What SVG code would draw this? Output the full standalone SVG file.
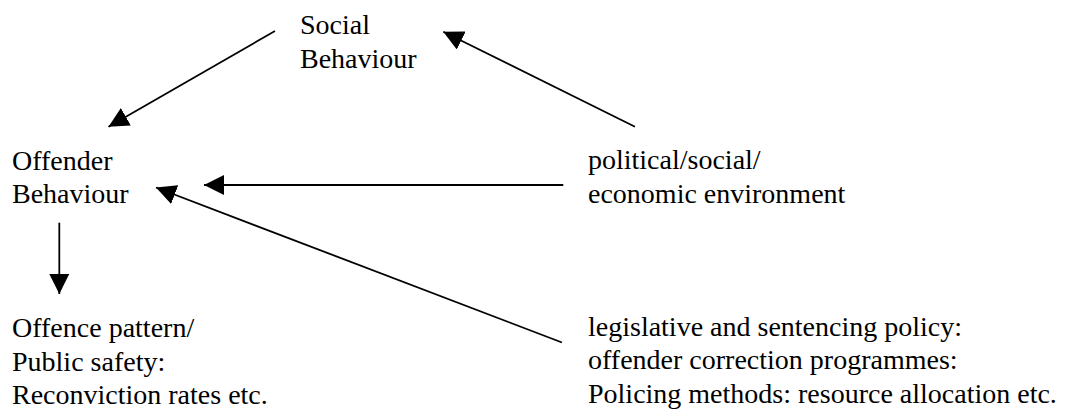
<svg xmlns="http://www.w3.org/2000/svg" width="1086" height="413" viewBox="0 0 1086 413">
  <style>
    text { font-size: 28px; fill: #000; }
    .conn { fill: none; stroke: #000; stroke-width: 1.8; marker-end: url(#head); }
  </style>
  <defs>
    <marker id="head" markerUnits="userSpaceOnUse" markerWidth="20" markerHeight="20" refX="20" refY="10" orient="auto" viewBox="0 0 20 20">
      <path d="M0,0 L20,10 L0,20 Z" fill="#000"/>
    </marker>
  </defs>
  <rect width="1086" height="413" fill="#fff"/>

  <!-- connectors -->
  <g id="connectors">
    <line class="conn" x1="275" y1="31" x2="108.5" y2="126.7"/>
    <line class="conn" x1="635" y1="126.7" x2="443.3" y2="31.7"/>
    <line class="conn" x1="563.3" y1="185" x2="204" y2="185"/>
    <line class="conn" x1="562" y1="342.5" x2="156" y2="187.5"/>
    <line class="conn" x1="59.3" y1="222.7" x2="59.3" y2="294"/>
  </g>

  <!-- nodes -->
  <g font-family="'Liberation Serif', Tinos, 'Times New Roman', Times, 'DejaVu Serif', serif">
    <g id="social-behaviour">
      <text x="300" y="33.5">Social</text>
      <text x="300" y="67.5">Behaviour</text>
    </g>
    <g id="offender-behaviour">
      <text x="12" y="169.5">Offender</text>
      <text x="12" y="203">Behaviour</text>
    </g>
    <g id="environment">
      <text x="588" y="169">political/social/</text>
      <text x="588" y="202.5">economic environment</text>
    </g>
    <g id="offence-pattern">
      <text x="12" y="337">Offence pattern/</text>
      <text x="12" y="370.5">Public safety:</text>
      <text x="12" y="404">Reconviction rates etc.</text>
    </g>
    <g id="policy">
      <text x="588" y="336">legislative and sentencing policy:</text>
      <text x="588" y="369">offender correction programmes:</text>
      <text x="588" y="402.5">Policing methods: resource allocation etc.</text>
    </g>
  </g>
</svg>
